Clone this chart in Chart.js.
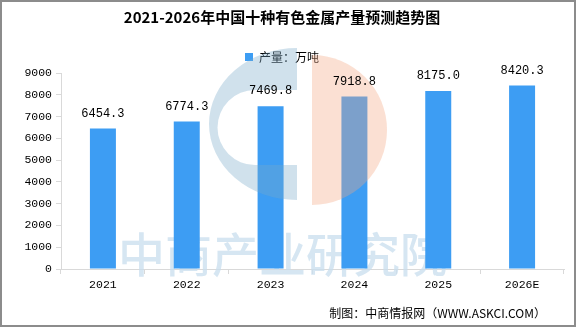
<!DOCTYPE html>
<html>
<head>
<meta charset="utf-8">
<script src="https://cdn.jsdelivr.net/npm/chart.js@4.4.1/dist/chart.umd.min.js"></script>
<style>
  html, body { margin: 0; padding: 0; background: #fff; }
  #wrap { width: 576px; height: 327px; position: relative; }
</style>
</head>
<body>
<div id="wrap"><canvas id="chart" width="576" height="327"></canvas></div>
<script>
// 数据
const years = ['2021', '2022', '2023', '2024', '2025', '2026E'];
const output = [6454.3, 6774.3, 7469.8, 7918.8, 8175.0, 8420.3];
const yTicks = [0, 1000, 2000, 3000, 4000, 5000, 6000, 7000, 8000, 9000];

const chartTitle = '2021-2026年中国十种有色金属产量预测趋势图';
const seriesName = '产量：万吨';
const sourceText = '制图：中商情报网（WWW.ASKCI.COM）';
const watermarkText = '中商产业研究院';

const BAR_COLOR = '#3d9df3';
const CJK = '"Noto Sans CJK SC", "Noto Sans", sans-serif';
const MONO = '"Liberation Mono", "DejaVu Sans Mono", monospace';

// 背景水印文字
const watermark = {
    id: 'watermark',
    beforeDatasetsDraw(chart) {
        const ctx = chart.ctx;
        ctx.save();
        ctx.fillStyle = 'rgba(200, 222, 238, 0.75)';
        ctx.font = '500 47px ' + CJK;
        ctx.textAlign = 'left';
        ctx.textBaseline = 'middle';
        ctx.fillText(watermarkText, 118, 254);
        ctx.restore();
    },
    // 半透明 logo 盖在柱子上
    afterDatasetsDraw(chart) {
        const ctx = chart.ctx;
        ctx.save();
        ctx.globalAlpha = 0.35;
        ctx.fillStyle = 'rgb(120, 168, 200)';
        ctx.beginPath();
        ctx.ellipse(297, 124, 88, 76, 0, Math.PI / 2, Math.PI * 1.5);
        ctx.closePath();
        // 内部开口
        ctx.moveTo(297, 90);
        ctx.lineTo(255, 90);
        ctx.arc(255, 127.5, 37.5, -Math.PI / 2, Math.PI / 2, true);
        ctx.lineTo(297, 165);
        ctx.closePath();
        ctx.fill('evenodd');

        ctx.fillStyle = 'rgb(244, 165, 130)';
        ctx.beginPath();
        ctx.arc(312, 130, 75, -Math.PI / 2, Math.PI / 2);
        ctx.closePath();
        ctx.fill();
        ctx.restore();
    }
};

// 柱顶数值
const barLabels = {
    id: 'barLabels',
    afterDatasetsDraw(chart) {
        const ctx = chart.ctx;
        const meta = chart.getDatasetMeta(0);
        ctx.save();
        ctx.fillStyle = '#000';
        ctx.font = '12px ' + MONO;
        ctx.textAlign = 'center';
        ctx.textBaseline = 'middle';
        meta.data.forEach((bar, i) => {
            ctx.fillText(output[i].toFixed(1), bar.x, bar.y - 15);
        });
        ctx.restore();
    }
};

// 来源和边框
const frame = {
    id: 'frame',
    afterDraw(chart) {
        const ctx = chart.ctx;
        ctx.save();
        ctx.fillStyle = '#000';
        ctx.font = '12px ' + CJK;
        ctx.textAlign = 'right';
        ctx.textBaseline = 'middle';
        ctx.fillText(sourceText, 546, 313);
        ctx.strokeStyle = '#8c8c8c';
        ctx.lineWidth = 2;
        ctx.strokeRect(1, 1, 574, 325);
        ctx.restore();
    }
};

new Chart(document.getElementById('chart'), {
    type: 'bar',
    data: {
        labels: years,
        datasets: [{
            label: seriesName,
            data: output,
            backgroundColor: BAR_COLOR,
            borderWidth: 0,
            categoryPercentage: 1,
            barPercentage: 0.31
        }]
    },
    options: {
        responsive: false,
        animation: false,
        layout: { padding: { top: 0, right: 12, bottom: 0, left: 0 } },
        plugins: {
            title: {
                display: true,
                text: chartTitle,
                color: '#000',
                font: { family: CJK, size: 15, weight: 'bold' },
                padding: { top: 8, bottom: 15 }
            },
            legend: {
                display: true,
                position: 'top',
                labels: {
                    boxWidth: 8,
                    boxHeight: 8,
                    color: '#000',
                    font: { family: CJK, size: 12 },
                    padding: 10
                }
            },
            tooltip: { enabled: false }
        },
        scales: {
            x: {
                offset: true,
                grid: { display: true, drawOnChartArea: false, offset: true, color: '#d9d9d9', tickLength: 5 },
                border: { color: '#d9d9d9' },
                ticks: { color: '#000', font: { family: MONO, size: 11.5 }, padding: 4 },
                afterFit(scale) { scale.height = 58; }
            },
            y: {
                min: 0,
                max: 9000,
                afterBuildTicks(scale) { scale.ticks = yTicks.map(v => ({ value: v })); },
                grid: { display: true, drawOnChartArea: false, color: '#d9d9d9', tickLength: 5 },
                border: { color: '#d9d9d9' },
                ticks: {
                    color: '#000',
                    font: { family: MONO, size: 11.5 },
                    padding: 4,
                    callback: v => String(v)
                },
                afterFit(scale) { scale.width = 61; }
            }
        }
    },
    plugins: [watermark, barLabels, frame]
});
</script>
</body>
</html>
